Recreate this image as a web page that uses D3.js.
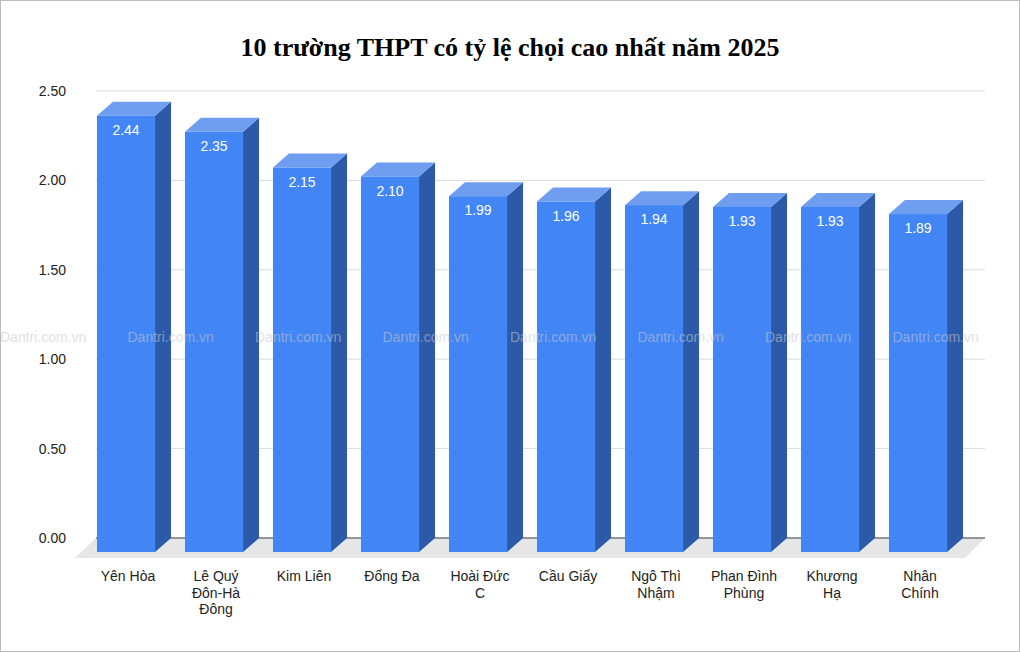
<!DOCTYPE html>
<html><head><meta charset="utf-8">
<script src="https://cdn.jsdelivr.net/npm/d3@7"></script>
<style>body{margin:0;background:#fff}svg{display:block}</style>
</head><body>
<div id="chart"></div>
<script>
var schools = ["Yên Hòa", "Lê Quý Đôn-Hà Đông", "Kim Liên", "Đống Đa", "Hoài Đức C",
  "Cầu Giấy", "Ngô Thì Nhậm", "Phan Đình Phùng", "Khương Hạ", "Nhân Chính"];
var ratios = [2.44, 2.35, 2.15, 2.10, 1.99, 1.96, 1.94, 1.93, 1.93, 1.89];
var yTicks = [0, 0.5, 1, 1.5, 2, 2.5];
// label line breaks as in the picture
var labelLines = [["Yên Hòa"], ["Lê Quý", "Đôn-Hà", "Đông"], ["Kim Liên"], ["Đống Đa"],
  ["Hoài Đức", "C"], ["Cầu Giấy"], ["Ngô Thì", "Nhậm"], ["Phan Đình", "Phùng"],
  ["Khương", "Hạ"], ["Nhân", "Chính"]];

var W = 1020, H = 652;
var dx = 16, dy = -14; // depth offset of the 3D bars
var svg = d3.select("#chart").append("svg").attr("width", W).attr("height", H);

svg.append("rect").attr("x", 0.5).attr("y", 0.5).attr("width", W - 1).attr("height", H - 1)
  .attr("fill", "#fff").attr("stroke", "#bbb");

svg.append("text").attr("x", 510).attr("y", 56).attr("text-anchor", "middle")
  .style("font-family", "Liberation Serif, serif").style("font-weight", "bold")
  .style("font-size", "26px").text("10 trường THPT có tỷ lệ chọi cao nhất năm 2025");

var x = d3.scaleBand().domain(schools).range([82, 962]).paddingInner(0.34).paddingOuter(0.17);
var y = d3.scaleLinear().domain([0, 2.5]).range([552, 105]);

// floor
svg.append("polygon")
  .attr("points", [[80 + dx, y(0) + dy], [985, y(0) + dy], [985 - 20, y(0) + 6], [80 - 5, y(0) + 6]].join(" "))
  .attr("fill", "#e6e6e6");

// gridlines (in back plane)
svg.selectAll(".grid").data(yTicks).enter().append("line")
  .attr("x1", 80 + dx).attr("x2", 985)
  .attr("y1", d => y(d) + dy).attr("y2", d => y(d) + dy)
  .attr("stroke", d => d === 0 ? "#777" : "#ddd").attr("stroke-width", d => d === 0 ? 1.5 : 1);

svg.selectAll(".ytick").data(yTicks).enter().append("text")
  .attr("x", 66).attr("y", d => y(d) + dy + 5).attr("text-anchor", "end")
  .style("font-family", "Liberation Sans, Arial, sans-serif").style("font-size", "14px")
  .attr("fill", "#222").text(d => d3.format(".2f")(d));

var bars = svg.selectAll(".bar").data(schools).enter().append("g");
bars.append("polygon").attr("fill", "#2c5aa8")
  .attr("points", (d, i) => {
    var r = x(d) + x.bandwidth(), t = y(ratios[i]), b = y(0);
    return [[r, t], [r + dx, t + dy], [r + dx, b + dy], [r, b]].join(" ");
  });
bars.append("polygon").attr("fill", "#6f9ef0")
  .attr("points", (d, i) => {
    var l = x(d), r = l + x.bandwidth(), t = y(ratios[i]);
    return [[l, t], [l + dx, t + dy], [r + dx, t + dy], [r, t]].join(" ");
  });
bars.append("rect").attr("fill", "#4285f4")
  .attr("x", d => x(d)).attr("width", x.bandwidth())
  .attr("y", (d, i) => y(ratios[i])).attr("height", (d, i) => y(0) - y(ratios[i]));
bars.append("text").attr("x", d => x(d) + x.bandwidth() / 2).attr("y", (d, i) => y(ratios[i]) + 19)
  .attr("text-anchor", "middle").attr("fill", "#fff")
  .style("font-family", "Liberation Sans, Arial, sans-serif").style("font-size", "14px")
  .text((d, i) => ratios[i].toFixed(2));

// watermark on top
svg.selectAll(".wm").data(d3.range(8)).enter().append("text")
  .attr("x", d => 0 + d * 127.5).attr("y", 342)
  .style("font-family", "Liberation Sans, Arial, sans-serif").style("font-size", "14px")
  .attr("fill", "#c8c8d0").attr("opacity", 0.55).text("Dantri.com.vn");

var lab = svg.selectAll(".xl").data(schools).enter().append("text")
  .attr("text-anchor", "middle")
  .style("font-family", "Liberation Sans, Arial, sans-serif").style("font-size", "14px")
  .attr("fill", "#222");
lab.each(function(d, i) {
  var t = d3.select(this);
  labelLines[i].forEach((s, k) => {
    t.append("tspan").attr("x", x(d) + x.bandwidth() / 2 + 2).attr("y", 581 + k * 16.5).text(s);
  });
});
</script>
</body></html>
